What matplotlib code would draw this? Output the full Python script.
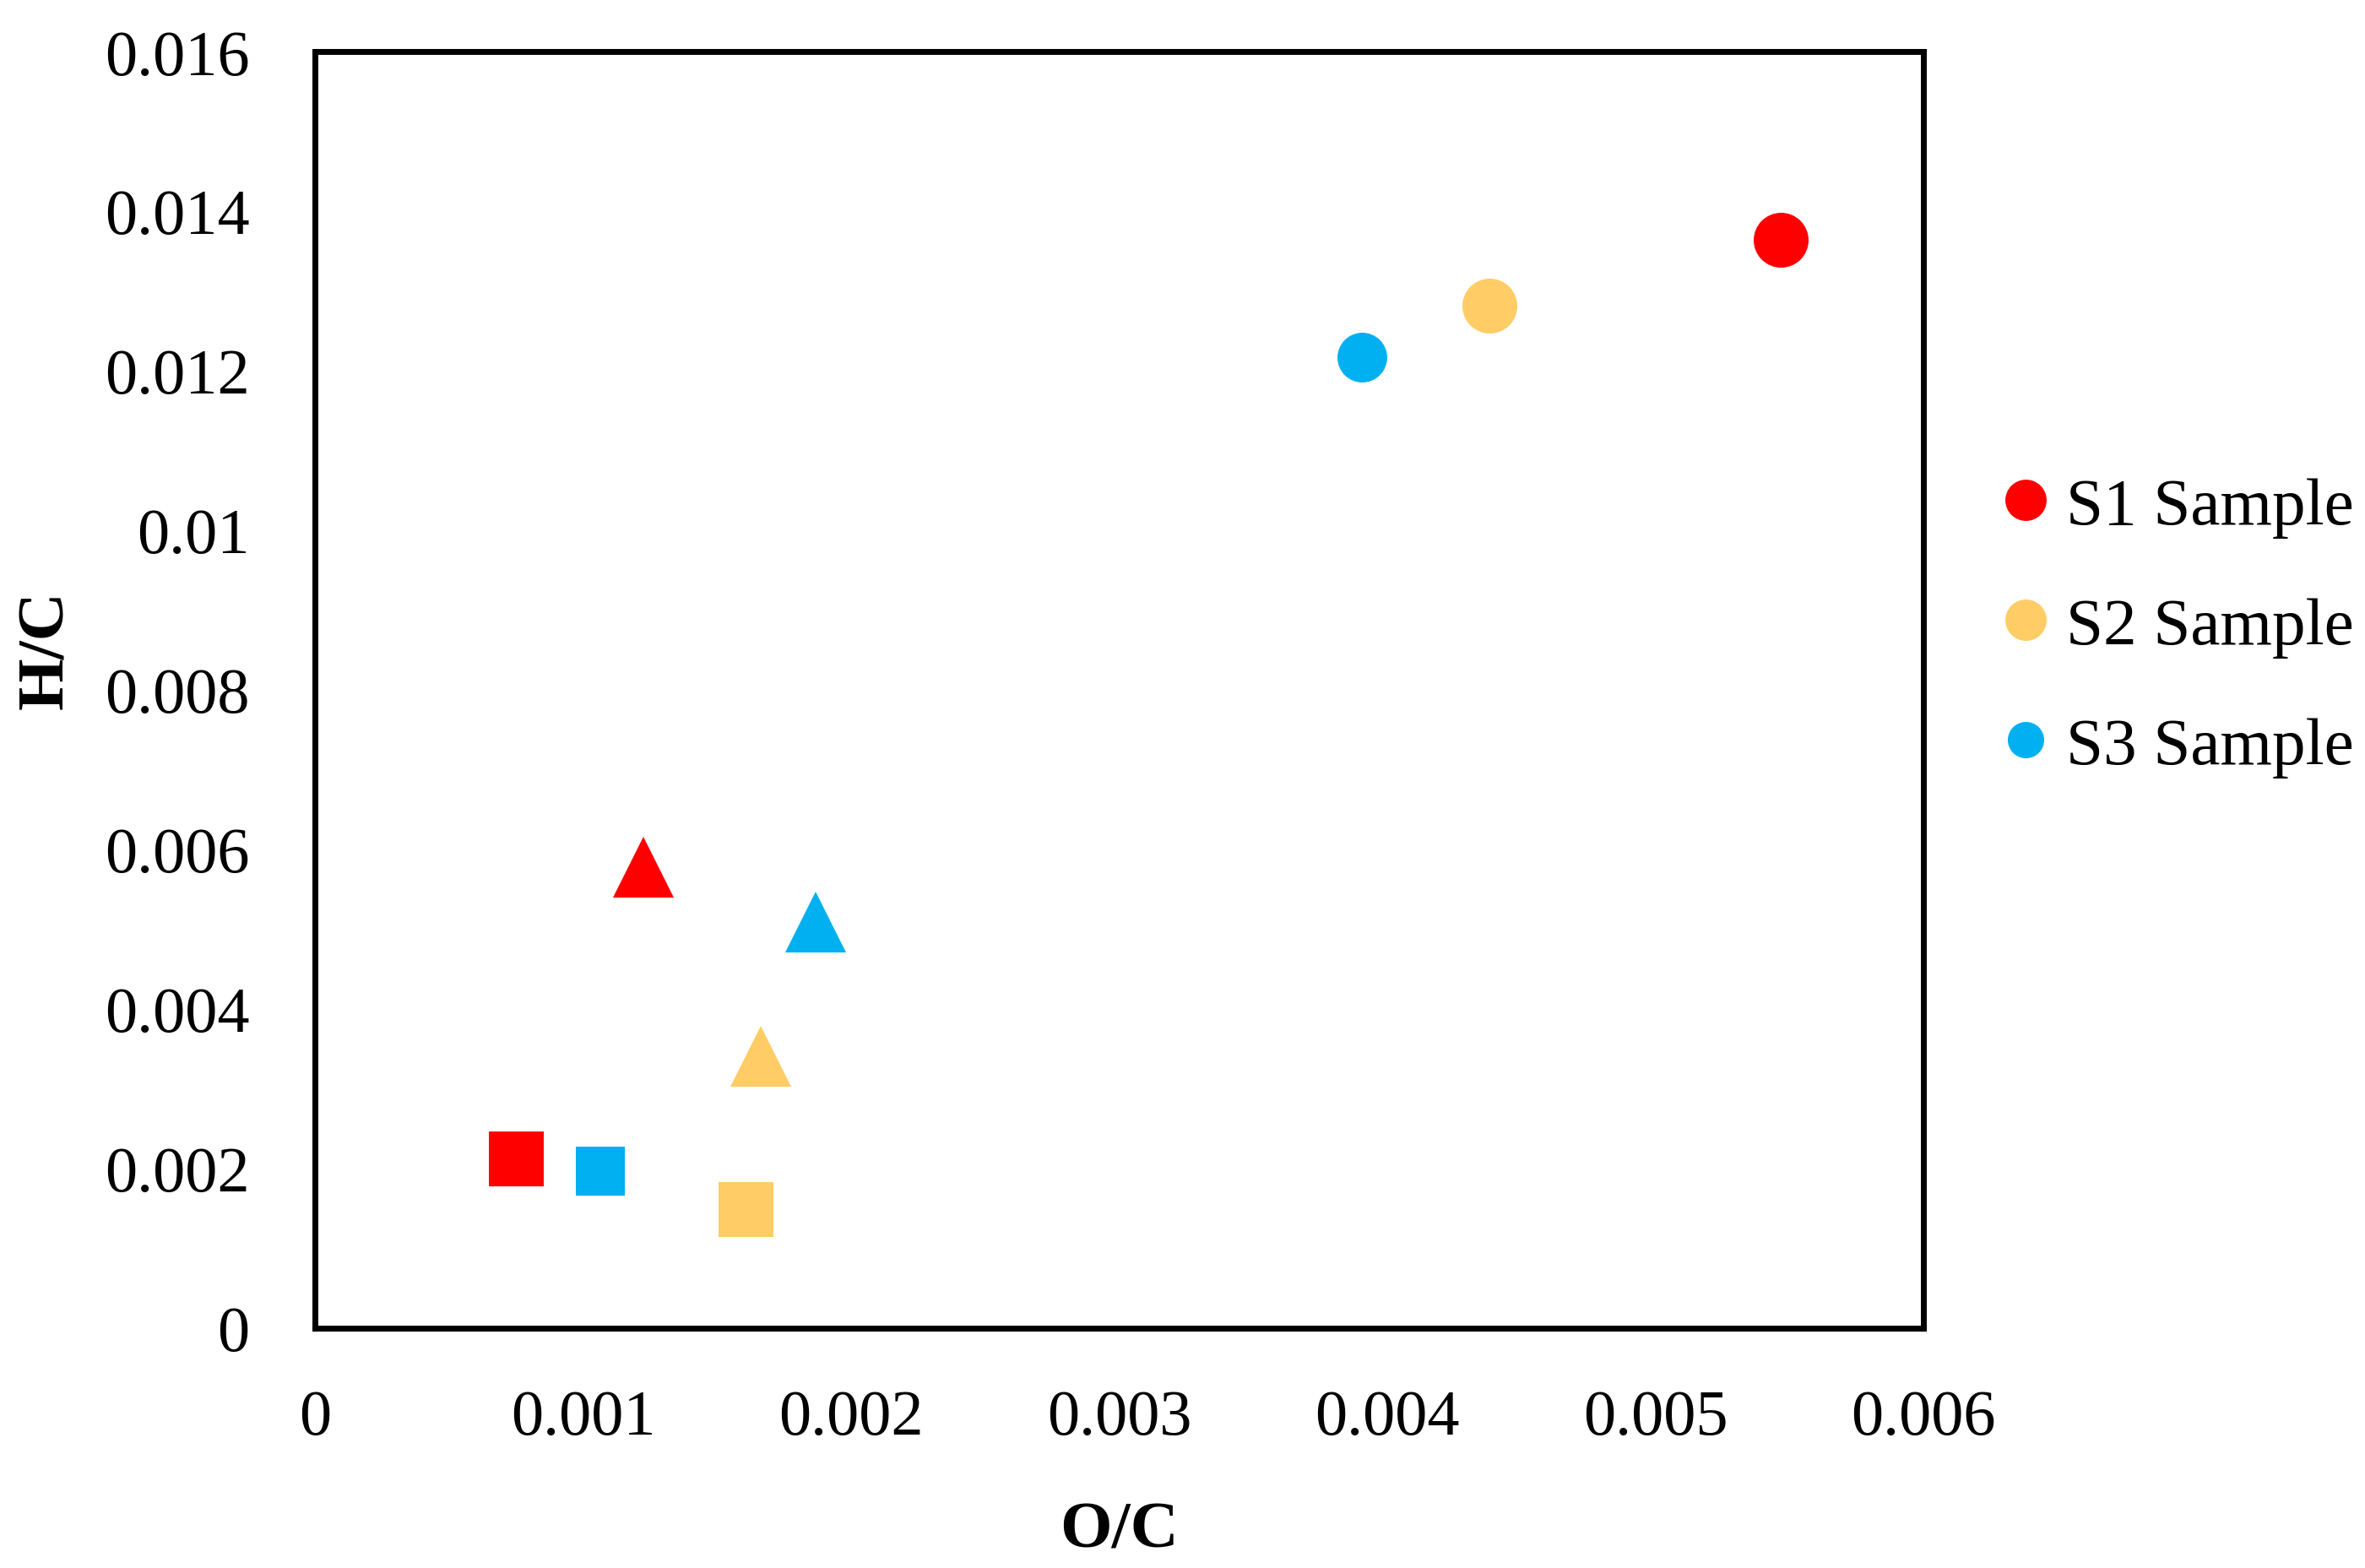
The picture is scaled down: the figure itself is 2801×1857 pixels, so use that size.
import matplotlib
matplotlib.use("Agg")
import matplotlib.pyplot as plt
from matplotlib.lines import Line2D

# ---- data ----
series = ["S1 Sample", "S2 Sample", "S3 Sample"]
colors = ["#FF0000", "#FFCC66", "#00B0F0"]
markers = ["o", "^", "s"]

s1_x = [0.005468, 0.001224, 0.000750]
s1_y = [0.013637, 0.005772, 0.002122]
s2_x = [0.004381, 0.001662, 0.001605]
s2_y = [0.012809, 0.003402, 0.001484]
s3_x = [0.003906, 0.001867, 0.001062]
s3_y = [0.012165, 0.005093, 0.001962]

xticks = [0, 0.001, 0.002, 0.003, 0.004, 0.005, 0.006]
xticklabels = ["0", "0.001", "0.002", "0.003", "0.004", "0.005", "0.006"]
yticks = [0, 0.002, 0.004, 0.006, 0.008, 0.010, 0.012, 0.014, 0.016]
yticklabels = ["0", "0.002", "0.004", "0.006", "0.008", "0.01", "0.012", "0.014", "0.016"]

# ---- style ----
plt.rcParams['font.family'] = ['Liberation Serif', 'DejaVu Serif']
FS = 28.5
TFS = 27.5
DPI = 200
fig = plt.figure(figsize=(2801 / DPI, 1858 / DPI), dpi=DPI)
ax = fig.add_axes([0.13328, 0.15301, 0.68011, 0.81362])

sizes = {  # marker sizes (pt) per series per marker type
    0: [23.4, 26.0, 23.4],
    1: [23.4, 26.0, 23.4],
    2: [21.2, 26.0, 21.2],
}
xs = [s1_x, s2_x, s3_x]
ys = [s1_y, s2_y, s3_y]
for i in range(3):
    for j in range(3):
        ax.plot(xs[i][j], ys[i][j], linestyle='none', marker=markers[j],
                markersize=sizes[i][j], color=colors[i], markeredgewidth=0,
                clip_on=False, zorder=3)

ax.set_xlim(0, 0.006)
ax.set_ylim(0, 0.016)
ax.set_xticks(xticks)
ax.set_xticklabels(xticklabels)
ax.set_yticks(yticks)
ax.set_yticklabels(yticklabels)
ax.tick_params(axis='both', length=0, labelsize=TFS)
ax.tick_params(axis='y', pad=28)
ax.tick_params(axis='x', pad=26)
for sp in ax.spines.values():
    sp.set_linewidth(2.5)
    sp.set_color('black')

ax.set_xlabel("O/C", fontsize=FS, fontweight='bold')
ax.set_ylabel("H/C", fontsize=FS, fontweight='bold')
ax.xaxis.label.set_verticalalignment('center')
ax.yaxis.label.set_verticalalignment('center')
ax.xaxis.set_label_coords(0.5, -0.159)
ax.yaxis.set_label_coords(-0.167, 0.532)

handles = [
    Line2D([], [], linestyle='none', marker='o', markersize=17.6, color=colors[0], markeredgewidth=0),
    Line2D([], [], linestyle='none', marker='o', markersize=17.6, color=colors[1], markeredgewidth=0),
    Line2D([], [], linestyle='none', marker='o', markersize=15.5, color=colors[2], markeredgewidth=0),
]
ax.legend(handles, series, loc='center left', bbox_to_anchor=(1.0426, 0.5492),
          frameon=False, fontsize=FS, borderpad=0, borderaxespad=0,
          handlelength=1.0, handletextpad=0.1, labelspacing=0.88)

fig.savefig("out.png", dpi=DPI, facecolor='white')
